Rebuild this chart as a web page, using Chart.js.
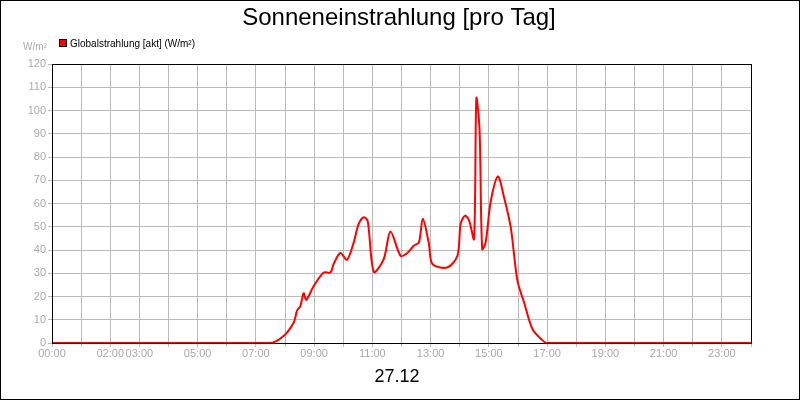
<!DOCTYPE html>
<html><head><meta charset="utf-8">
<script src="https://cdn.jsdelivr.net/npm/chart.js@4"></script>
<style>html,body{margin:0;padding:0;background:#fff}#w{width:800px;height:400px;position:relative;box-sizing:border-box;border:1px solid #000}canvas{display:block}</style>
</head><body><div id="w"><canvas id="c" width="798" height="398"></canvas></div>
<script>
const hours = [0,7.5,7.95,8.3,8.41,8.53,8.64,8.73,8.99,9.33,9.56,9.67,9.9,10.13,10.36,10.53,10.71,10.84,11.05,11.39,11.62,11.97,12.2,12.43,12.6,12.73,12.94,13.06,13.57,13.92,14.03,14.18,14.32,14.49,14.57,14.68,14.77,14.89,15.06,15.31,15.52,15.75,15.98,16.21,16.5,16.89,17.0,24];
const values = [0,0,3.0,8.8,13.8,16,21.4,18.6,24.6,30.3,30.3,34,38.7,35.8,43.3,51.2,54.1,52.4,30.6,36.1,48,37.5,38.7,41.9,43.3,53.4,42.9,34,32.5,37.5,51.2,54.8,52.7,44.8,105.2,91.5,40.4,43.3,60.6,71.6,62.7,49.8,26.8,17.4,5.9,0.6,0,0];
const tickLabels = {0:'00:00',2:'02:00',3:'03:00',5:'05:00',7:'07:00',9:'09:00',11:'11:00',13:'13:00',15:'15:00',17:'17:00',19:'19:00',21:'21:00',23:'23:00'};
const seriesName = 'Globalstrahlung [akt] (W/m²)';
const titleText = 'Sonneneinstrahlung [pro Tag]';
const dateLabel = '27.12';
const unitLabel = 'W/m²';

const deco = {id:'deco', afterDraw(ch){
  const c=ch.ctx, a=ch.chartArea;
  c.save();
  c.strokeStyle='#000'; c.lineWidth=1;
  c.strokeRect(Math.round(a.left)+0.5,Math.round(a.top)+0.5,Math.round(a.right-a.left),Math.round(a.bottom-a.top));
  c.fillStyle='#000'; c.textAlign='center'; c.textBaseline='middle';
  c.font='24px "Liberation Sans", Arial, sans-serif';
  c.fillText(titleText,398,17);
  c.font='18px "Liberation Sans", Arial, sans-serif';
  c.fillText(dateLabel,396,376);
  c.fillStyle='#f00'; c.fillRect(58,38,8,8); c.strokeStyle='#000'; c.strokeRect(58.5,38.5,7,7);
  c.fillStyle='#000'; c.textAlign='left'; c.font='10px "Liberation Sans", Arial, sans-serif';
  c.fillText(seriesName,69,43);
  c.fillStyle='#aaa'; c.fillText(unitLabel,22,46);
  c.restore();
}};

new Chart(document.getElementById('c'),{
  type:'line',
  plugins:[deco],
  data:{datasets:[{label:seriesName,data:hours.map((h,i)=>({x:h,y:values[i]})),borderColor:'#f00',borderWidth:2,pointRadius:0,tension:0.3,fill:false}]},
  options:{responsive:false,animation:false,devicePixelRatio:1,
    layout:{padding:{left:0,right:48,top:63,bottom:0}},
    plugins:{legend:{display:false},title:{display:false},tooltip:{enabled:false}},
    scales:{
      x:{type:'linear',min:0,max:24,afterFit(s){s.height=56;},
        border:{display:true,color:'#000'},
        grid:{color:'#bbb',drawTicks:true,tickLength:4,tickColor:'#bbb'},
        ticks:{stepSize:1,autoSkip:false,maxRotation:0,color:'#aaa',font:{size:11,family:'"Liberation Sans", Arial'},padding:0,
          callback:v=>tickLabels[v]||''}},
      y:{min:0,max:120,afterFit(s){s.width=51;},
        border:{display:true,color:'#000'},
        grid:{color:'#bbb',tickLength:4,tickColor:'#bbb'},
        ticks:{stepSize:10,color:'#aaa',font:{size:11,family:'"Liberation Sans", Arial'},padding:2}}
    }}
});
</script>
</body></html>
